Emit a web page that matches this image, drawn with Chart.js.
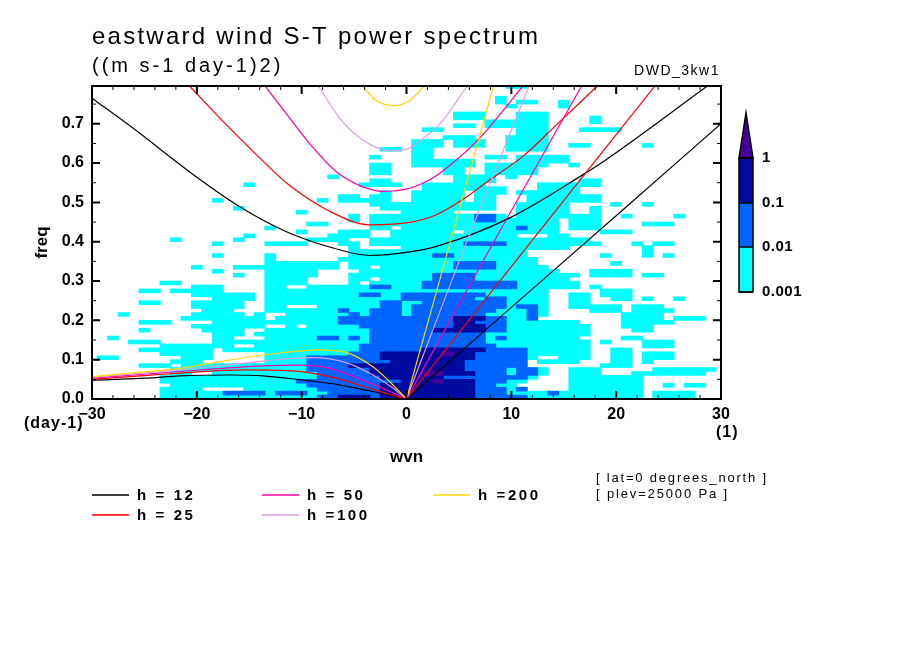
<!DOCTYPE html>
<html>
<head>
<meta charset="utf-8">
<title>eastward wind S-T power spectrum</title>
<script src="https://cdn.jsdelivr.net/npm/chart.js@4"></script>
<style>
  html, body { margin: 0; background: #fff; }
  canvas { display: block; }
</style>
</head>
<body>
<canvas id="spectrum" width="904" height="654"></canvas>
<script>
// ── Data ──────────────────────────────────────────
const xTicks = [-30, -20, -10, 0, 10, 20, 30];
const xMinorTicks = [-28, -26, -24, -22, -18, -16, -14, -12, -8, -6, -4, -2, 2, 4, 6, 8, 12, 14, 16, 18, 22, 24, 26, 28];
const yTicks = [0, 0.1, 0.2, 0.3, 0.4, 0.5, 0.6, 0.7];
const yMinorTicks = [0.05, 0.15, 0.25, 0.35, 0.45, 0.55, 0.65, 0.75];
const powerLevels = ['0.001', '0.01', '0.1', '1'];
const firstWavenumber = -30;
const freqBin = 0.01;

// shaded level per cell (0 = below 0.001). top row is freq 0.79-0.80, bottom row 0.00-0.01.
// columns are wavenumber -30..30, grouped by ten.
const powerRows = [
  '0000000000 0000000000 0000000000 0000000000 1100000000 0000000000 0',
  '0000000000 0000000000 0000000000 0000000000 0000000000 0000000000 0',
  '0000000000 0000000000 0000000000 0000000000 0000000000 0000000000 0',
  '0000000000 0000000000 0000000000 0000000001 0000000000 0000000000 0',
  '0000000000 0000000000 0000000000 0000000001 0110010000 0000000000 0',
  '0000000000 0000000000 0000000000 0000000000 1000010000 0000000000 0',
  '0000000000 0000000000 0000000000 0000000000 0000000000 0000000000 0',
  '0000000000 0000000000 0000000000 0000011100 0111000000 0000000000 0',
  '0000000000 0000000000 0000000000 0000011100 0111000010 0000000000 0',
  '0000000000 0000000000 0000000000 0000000011 1111000010 0000000000 0',
  '0000000000 0000000000 0000000000 0000011011 1111000000 0000000000 0',
  '0000000000 0000000000 0000000000 0011000000 0111000111 1000000000 0',
  '0000000000 0000000000 0000000000 0000000000 0111000000 0000000000 0',
  '0000000000 0000000000 0000000000 0000111000 1111000000 0000000000 0',
  '0000000000 0000000000 0000000000 0111011100 1111000000 0000000000 0',
  '0000000000 0000000000 0000000000 0111011100 1111001100 0001000000 0',
  '0000000000 0000000000 0000000011 0110000000 1111000000 0000000000 0',
  '0000000000 0000000000 0000000000 0110000000 0000000000 0000000000 0',
  '0000000000 0000000000 0000000100 0110000011 0111110000 0000000000 0',
  '0000000000 0000000000 0000000000 0111111000 0111110000 0000000000 0',
  '0000000000 0000000000 0000000110 0111111011 1111001000 0000000000 0',
  '0000000000 0000000000 0000000110 0000110011 1110000000 0000000000 0',
  '0000000000 0000000000 0000000110 0000110011 1110000000 0000000000 0',
  '0000000000 0000000000 0001000000 0000011110 1000000000 0000000000 0',
  '0000000000 0000000000 0000000110 0000011110 0000000110 0000000000 0',
  '0000000000 0000010000 0000001111 0011111100 0001111110 0000000000 0',
  '0000000000 0000000000 0000000000 0011111111 0001111000 0000000000 0',
  '0000000000 0000000000 0000000010 0111110111 0111111000 0000000000 0',
  '0000000000 0000000000 0000110110 0111110110 0011111110 0000000000 0',
  '0000000000 0010000000 0010111110 0111110110 0011111110 0000000000 0',
  '0000000000 0000000000 0000000111 1111111110 0111110000 1001000000 0',
  '0000000000 0000100000 0000000011 1111111110 0111110010 0000000000 0',
  '0000000000 0000000000 1000000000 1111100000 0111110010 0000000000 0',
  '0000000000 0000000000 0000010111 1111111221 0111111110 0100001000 0',
  '0000000000 0000000000 0000010111 1111111221 1111101110 0000000000 0',
  '0000000000 0000000000 0110000111 1111111111 1111101110 0001110000 0',
  '0000000000 0000000100 0000000110 1111111111 1211101110 0000000000 0',
  '0000000000 0000000000 1000111001 1111101111 1111100001 1100000000 0',
  '0000000000 0000010000 0001111001 1111111111 1000110000 0000000000 0',
  '0000000010 0000100000 0111100111 1111111111 1111111100 0000000000 0',
  '0000000000 0010000111 1000110111 1111112222 1111111110 0010110000 0',
  '0000000000 0000000000 0000010000 1111111111 1111110000 0001000000 0',
  '0000000000 0000000000 0000011111 1111111111 1100000000 0001000000 0',
  '0000000000 0010000100 0000011111 1112211111 1100000001 0001010000 0',
  '0000000000 0000000100 0000111111 1111111111 1110000000 0000000000 0',
  '0000000000 0000000111 1111011111 1111122221 1110000000 1000000000 0',
  '0000000000 1000111111 1111011011 1111122221 1111000000 0000000000 0',
  '0000000000 0010000111 1100001111 1111111111 1111100011 1100000000 0',
  '0000000000 0000100111 1100011111 1112222111 1111111011 1101100000 0',
  '0000000000 0000000111 1000011011 1112222111 1111110000 0000000000 0',
  '0000000110 0000000111 1000010111 1122222222 2111111000 0000000000 0',
  '0000000000 1110000110 0111111221 1122222222 2111111010 0000000000 0',
  '0000011011 1110000111 1111111111 1111111111 1111000001 1100000000 0',
  '0000000000 1111110111 1111112211 2222222211 1111001101 1100000000 0',
  '0000000000 0011110111 1111111111 2222222122 1111001100 1101001000 0',
  '0000011000 1111100111 1111111122 1122222222 1111001100 0000000000 0',
  '0000000000 1111100110 0011111122 1222222222 1221001111 1011100000 0',
  '0000000000 0111000111 1111211222 1222222221 1121000011 1011110000 0',
  '0001000000 1111101001 1111121222 1222222211 1121000000 0111100000 0',
  '0000000001 1111111011 1111222222 2222233322 1120000000 0111101110 0',
  '0000011100 0011111111 1111222222 2222233222 1111111000 0111110000 0',
  '0000000000 1111111001 0111112222 2222233322 1111111100 0111000000 0',
  '0000010000 0111100111 1111111222 2223333322 1111111100 0011000000 0',
  '0000000000 0011101111 1111111222 2222222211 1111111100 0000000000 0',
  '0010000000 0011000111 1122121222 2222222212 1111111000 0110000000 0',
  '0000111000 0011111111 1111111222 2222222211 1111111101 0001110000 0',
  '0000000111 1111001111 1111112222 2222222221 1111111100 0001110000 0',
  '0000011111 1101111111 1111112222 2233333322 2211111100 1100000000 0',
  '0000000111 1100000111 1111122233 3333433222 2211111100 1101110000 0',
  '0110000001 1100000111 1222222233 3333333222 2210011100 1101110000 0',
  '0000000011 1000000111 1222222223 3333332222 2201111000 1101000000 0',
  '0000011101 1111111111 1222233333 3333332222 2200000001 1100000000 0',
  '0000000011 1111111111 1222222333 3333332222 1221001110 0000111111 0',
  '0000000011 0011111111 1122222333 3344333222 1221001110 0011111110 0',
  '0000000111 1111111111 1122222233 3333222222 2210001111 1110000000 0',
  '0000000111 1111111111 2222222222 3334333222 1100001111 1110000000 0',
  '0000000011 1111111111 1222222233 3333333221 1000001111 1110010110 0',
  '0000000111 1000011111 1122222233 3333333222 1200001111 1110000000 0',
  '0000000111 1112222122 2112222233 3333333222 1111211111 1110111100 0',
  '0000000111 1111111111 1122333233 3333333222 2211111111 1110111100 0',
];

// wavenumber, freq pairs
const h12Gravity = [[-30, 0.765], [-26.1, 0.689], [-20.1, 0.566], [-15.9, 0.489], [-11.5, 0.426], [-7, 0.384], [-3.5, 0.365], [0.3, 0.374], [3.1, 0.39], [9.8, 0.46], [16.8, 0.57], [19, 0.608], [28.7, 0.796]];
const h12Kelvin = [[0, 0], [10, 0.233], [20, 0.466], [30, 0.7]];
const h12Rossby = [[-30, 0.048], [-24.9, 0.053], [-21.6, 0.059], [-16.9, 0.061], [-13.7, 0.059], [-10.5, 0.05], [-6.4, 0.036], [-3.2, 0.019], [0, 0]];
const h25Gravity = [[-20.7, 0.796], [-17.5, 0.706], [-14.3, 0.621], [-11.2, 0.544], [-7.3, 0.477], [-3.5, 0.443], [0.3, 0.449], [2.8, 0.468], [5.4, 0.508], [8.2, 0.562], [11.1, 0.617], [14.3, 0.697], [18.2, 0.796]];
const h25Kelvin = [[0, 0], [11.4, 0.384], [23.7, 0.796]];
const h25Rossby = [[-30, 0.05], [-21.6, 0.066], [-15.3, 0.074], [-11.2, 0.072], [-7.3, 0.057], [-4.2, 0.033], [-1.9, 0.014], [0, 0]];
const h50Gravity = [[-13.5, 0.796], [-11.5, 0.727], [-9, 0.642], [-6.7, 0.578], [-4.2, 0.54], [-2.3, 0.528], [0.3, 0.536], [2.5, 0.562], [4.1, 0.593], [7, 0.664], [8.9, 0.723], [11.1, 0.796]];
const h50Kelvin = [[0, 0], [8, 0.384], [16.7, 0.796]];
const h50Rossby = [[-30, 0.053], [-21.6, 0.07], [-13.7, 0.084], [-10.5, 0.086], [-7.3, 0.078], [-4.2, 0.048], [-1.9, 0.023], [0, 0]];
const h100Gravity = [[-8.4, 0.796], [-6.4, 0.715], [-4.2, 0.659], [-1.6, 0.631], [0.3, 0.638], [1.2, 0.655], [3.1, 0.697], [5.8, 0.796]];
const h100Kelvin = [[0, 0], [5.7, 0.397], [11.7, 0.796]];
const h100Rossby = [[-30, 0.055], [-21.6, 0.074], [-15.3, 0.092], [-9, 0.105], [-5.7, 0.092], [-3.2, 0.061], [-1.3, 0.028], [0, 0]];
const h200Gravity = [[-4.2, 0.796], [-2.9, 0.759], [-1.1, 0.746], [0.3, 0.759], [1.7, 0.796]];
const h200Kelvin = [[0, 0], [4.1, 0.392], [8.3, 0.796]];
const h200Rossby = [[-30, 0.057], [-26.4, 0.066], [-21.6, 0.078], [-16.9, 0.099], [-12.1, 0.117], [-8.3, 0.125], [-5.7, 0.118], [-3.2, 0.082], [-1.6, 0.044], [0, 0]];

const depthLabels = ['h = 12', 'h = 25', 'h = 50', 'h =100', 'h =200'];
const depthBranches = [
  [h12Gravity, h12Kelvin, h12Rossby],
  [h25Gravity, h25Kelvin, h25Rossby],
  [h50Gravity, h50Kelvin, h50Rossby],
  [h100Gravity, h100Kelvin, h100Rossby],
  [h200Gravity, h200Kelvin, h200Rossby],
];

// ── Styles ────────────────────────────────────────
const levelColors = ['#00FFFF', '#0064FF', '#000A9E', '#44009C'];
const depthColors = ['#000000', '#FF0000', '#FF00A5', '#DDA0DD', '#FFD700'];
const TICK_FONT = 'bold 16px "Liberation Sans"';
const LABEL_FONT = 'bold 15px "Liberation Sans"';
const THIN_FONT = '"Liberation Sans"';

// ── Shaded cells as floating bars ─────────────────
function levelBars(level) {
  const cells = powerRows.map(r => r.replace(/ /g, ''));
  const bars = [];
  const top = cells.length - 1;
  for (let col = 0; col < cells[0].length; col++) {
    let start = null;
    for (let k = 0; k <= cells.length; k++) {
      const v = k < cells.length ? Number(cells[top - k][col]) : 0;
      if (v >= level && start === null) start = k;
      if (v < level && start !== null) {
        bars.push({ x: firstWavenumber + col, y: [start * freqBin, k * freqBin] });
        start = null;
      }
    }
  }
  return bars;
}

const barSets = levelColors.map((color, i) => ({
  type: 'bar',
  data: levelBars(i + 1),
  backgroundColor: color,
  barThickness: 11,
  grouped: false,
  borderWidth: 0,
  order: 20 - i,
}));

const lineSets = depthBranches.flatMap((branches, i) => branches.map(pts => ({
  type: 'line',
  data: pts.map(p => ({ x: p[0], y: p[1] })),
  borderColor: depthColors[i],
  borderWidth: 1.2,
  pointRadius: 0,
  cubicInterpolationMode: 'monotone',
  order: 10 - i,
})));

// ── Frame, inward ticks, colour bar, legend, text ─
function text(ctx, str, x, y, font, spacing, align) {
  ctx.font = font;
  ctx.letterSpacing = (spacing || 0) + 'px';
  ctx.textAlign = align || 'left';
  ctx.textBaseline = 'middle';
  ctx.fillStyle = '#000';
  ctx.fillText(str, x, y);
}

const decorations = {
  id: 'decorations',
  afterDraw(chart) {
    const { ctx, chartArea: a, scales: { x, y } } = chart;
    ctx.save();
    ctx.strokeStyle = '#000';
    ctx.lineWidth = 2;
    ctx.strokeRect(a.left, a.top, a.right - a.left, a.bottom - a.top);
    const xMark = (v, len) => {
      const px = x.getPixelForValue(v);
      ctx.beginPath();
      ctx.moveTo(px, a.bottom); ctx.lineTo(px, a.bottom - len);
      ctx.moveTo(px, a.top); ctx.lineTo(px, a.top + len);
      ctx.stroke();
    };
    const yMark = (v, len) => {
      const py = y.getPixelForValue(v);
      ctx.beginPath();
      ctx.moveTo(a.left, py); ctx.lineTo(a.left + len, py);
      ctx.moveTo(a.right, py); ctx.lineTo(a.right - len, py);
      ctx.stroke();
    };
    xTicks.forEach(v => xMark(v, 8));
    yTicks.forEach(v => yMark(v, 8));
    ctx.lineWidth = 1;
    xMinorTicks.forEach(v => xMark(v, 4));
    yMinorTicks.forEach(v => yMark(v, 4));

    // colour bar
    const barX = 739, barW = 14;
    const barY = [292, 247, 203, 158];
    levelColors.slice(0, 3).forEach((c, i) => {
      ctx.fillStyle = c;
      ctx.fillRect(barX, barY[i + 1], barW, barY[i] - barY[i + 1]);
    });
    ctx.beginPath();
    ctx.moveTo(barX, barY[3]); ctx.lineTo(barX + barW / 2, 113); ctx.lineTo(barX + barW, barY[3]);
    ctx.closePath();
    ctx.fillStyle = levelColors[3];
    ctx.fill();
    ctx.lineWidth = 1.5;
    ctx.stroke();
    barY.forEach((py, i) => {
      ctx.beginPath();
      ctx.moveTo(barX, py); ctx.lineTo(barX + barW, py);
      ctx.stroke();
      text(ctx, powerLevels[i], 762, py, LABEL_FONT, 0.5);
    });
    ctx.strokeRect(barX, barY[3], barW, barY[0] - barY[3]);

    // line legend
    const legendX = [92, 92, 262, 262, 433];
    const legendY = [495, 515, 495, 515, 495];
    depthLabels.forEach((label, i) => {
      ctx.strokeStyle = depthColors[i];
      ctx.lineWidth = 1.5;
      ctx.beginPath();
      ctx.moveTo(legendX[i], legendY[i]); ctx.lineTo(legendX[i] + 37, legendY[i]);
      ctx.stroke();
      text(ctx, label, legendX[i] + 45, legendY[i] + 1, LABEL_FONT, 2.6);
    });

    // titles and notes
    text(ctx, 'eastward wind S-T power spectrum', 92, 37, '24px ' + THIN_FONT, 2.25);
    text(ctx, '((m s-1 day-1)2)', 92, 66, '20px ' + THIN_FONT, 3);
    text(ctx, 'DWD_3kw1', 720, 71, '14px ' + THIN_FONT, 1.5, 'right');
    text(ctx, '(day-1)', 24, 424, TICK_FONT, 1);
    text(ctx, '(1)', 716, 433, TICK_FONT, 1);
    text(ctx, '[ lat=0 degrees_north ]', 596, 478, '13px ' + THIN_FONT, 1.8);
    text(ctx, '[ plev=25000 Pa ]', 596, 494, '13px ' + THIN_FONT, 1.85);
    ctx.restore();
  },
};

// ── Chart ─────────────────────────────────────────
new Chart(document.getElementById('spectrum'), {
  type: 'bar',
  data: { datasets: [...barSets, ...lineSets] },
  plugins: [decorations],
  options: {
    responsive: false,
    animation: false,
    events: [],
    layout: { padding: { left: 28, top: 86, right: 183, bottom: 182 } },
    plugins: { legend: { display: false }, tooltip: { enabled: false } },
    scales: {
      x: {
        type: 'linear',
        min: -30,
        max: 30,
        offset: false,
        afterFit(s) { s.height = 73; },
        grid: { display: false, offset: false, drawTicks: false },
        border: { display: false },
        title: { display: true, text: 'wvn', color: '#000', font: { family: 'Liberation Sans', size: 17, weight: 'bold' } },
        ticks: {
          stepSize: 10,
          autoSkip: false,
          maxRotation: 0,
          padding: 6,
          color: '#000',
          font: { family: 'Liberation Sans', size: 16, weight: 'bold' },
          callback: v => (v < 0 ? '\u2212' + (-v) : String(v)),
        },
      },
      y: {
        type: 'linear',
        min: 0,
        max: 0.796,
        afterFit(s) { s.width = 64; },
        grid: { display: false, drawTicks: false },
        border: { display: false },
        title: { display: true, text: 'freq', color: '#000', font: { family: 'Liberation Sans', size: 17, weight: 'bold' } },
        ticks: {
          stepSize: 0.1,
          includeBounds: false,
          padding: 8,
          color: '#000',
          font: { family: 'Liberation Sans', size: 16, weight: 'bold' },
          callback: v => v.toFixed(1),
        },
      },
    },
  },
});
</script>
</body>
</html>
